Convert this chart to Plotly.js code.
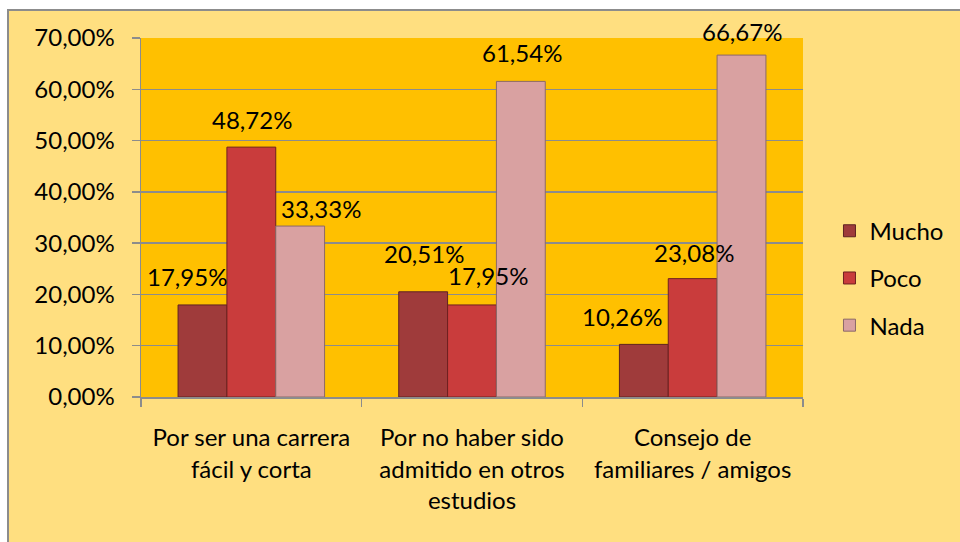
<!DOCTYPE html>
<html>
<head>
<meta charset="utf-8">
<script src="https://cdn.plot.ly/plotly-3.0.1.min.js"></script>
<style>
  html, body { margin: 0; padding: 0; background: #ffffff; width: 960px; height: 542px; overflow: hidden; }
  #frame { position: absolute; left: 7px; top: 9px; border-left: 2px solid #8c8c8c; border-top: 2px solid #8c8c8c; }
  #chart { width: 951px; height: 531px; }
</style>
</head>
<body>
<div id="frame"><div id="chart"></div></div>
<script>
// ---- data ----
const categories = [
  "Por ser una carrera<br>fácil y corta",
  "Por no haber sido<br>admitido en otros<br>estudios",
  "Consejo de<br>familiares / amigos"
];
const seriesNames = ["Mucho", "Poco", "Nada"];
const mucho = [17.95, 20.51, 10.26];
const poco  = [48.72, 17.95, 23.08];
const nada  = [33.33, 61.54, 66.67];
const yTicks = [0, 10, 20, 30, 40, 50, 60, 70];

// ---- style ----
const seriesValues = [mucho, poco, nada];
const colors = ["#9f3b3b", "#c93c3c", "#d9a1a1"];
const lineColors = ["#5e2222", "#6e2020", "#8a6868"];
const FONT = "Lato, 'Open Sans', sans-serif";
// manual label nudges (pixels), like the hand-placed labels in the original
const labelDx = [[-15, 1, -22], [1, 16, 1], [21, 1, 0]];
const labelDy = [[28, 38, 28], [28, 29, 26], [18, 29, 24]];
const barPx = 49;

const traces = seriesNames.map((name, s) => ({
  type: "bar",
  name: name,
  x: categories,
  y: seriesValues[s],
  legendgroup: name,
  marker: { color: colors[s], line: { color: lineColors[s], width: 1 } },
  hoverinfo: "none"
}));

const fmt = v => v.toFixed(2).replace(".", ",") + "%";
const annotations = [];
seriesValues.forEach((vals, s) => {
  vals.forEach((v, i) => {
    annotations.push({
      x: categories[i], y: v, xref: "x", yref: "y",
      text: fmt(v), showarrow: false,
      xshift: (s - 1) * barPx + labelDx[s][i],
      yshift: labelDy[s][i],
      font: { family: FONT, size: 24, color: "#000" }
    });
  });
});

const layout = {
  width: 951, height: 531,
  margin: { l: 132, r: 155, t: 27, b: 145 },
  paper_bgcolor: "#ffdf80",
  plot_bgcolor: "#ffc000",
  barmode: "group",
  bargap: 0.336,
  bargroupgap: 0,
  font: { family: FONT, size: 24, color: "#000" },
  showlegend: true,
  legend: {
    x: 1.04, xanchor: "left", y: 0.331, yanchor: "middle",
    bgcolor: "rgba(0,0,0,0)",
    font: { family: FONT, size: 24, color: "#000" },
    tracegroupgap: 13
  },
  xaxis: {
    type: "category",
    tickson: "boundaries",
    ticks: "outside", ticklen: 8, tickcolor: "#8c8c8c", tickwidth: 1.5,
    showline: true, linecolor: "#8c8c8c", linewidth: 1.5,
    showgrid: false,
    tickfont: { family: FONT, size: 24 },
    ticklabelstandoff: 19
  },
  yaxis: {
    range: [0, 70],
    tickmode: "array",
    tickvals: yTicks,
    ticktext: yTicks.map(fmt),
    ticks: "outside", ticklen: 8, tickcolor: "#8c8c8c", tickwidth: 1.5,
    showline: true, linecolor: "#8c8c8c", linewidth: 1.5,
    showgrid: true, gridcolor: "#8c8c8c", gridwidth: 1.5,
    zeroline: false,
    tickfont: { family: FONT, size: 24 },
    ticklabelstandoff: 12
  },
  annotations: annotations
};

Plotly.newPlot("chart", traces, layout, { displayModeBar: false, staticPlot: true });
</script>
</body>
</html>
